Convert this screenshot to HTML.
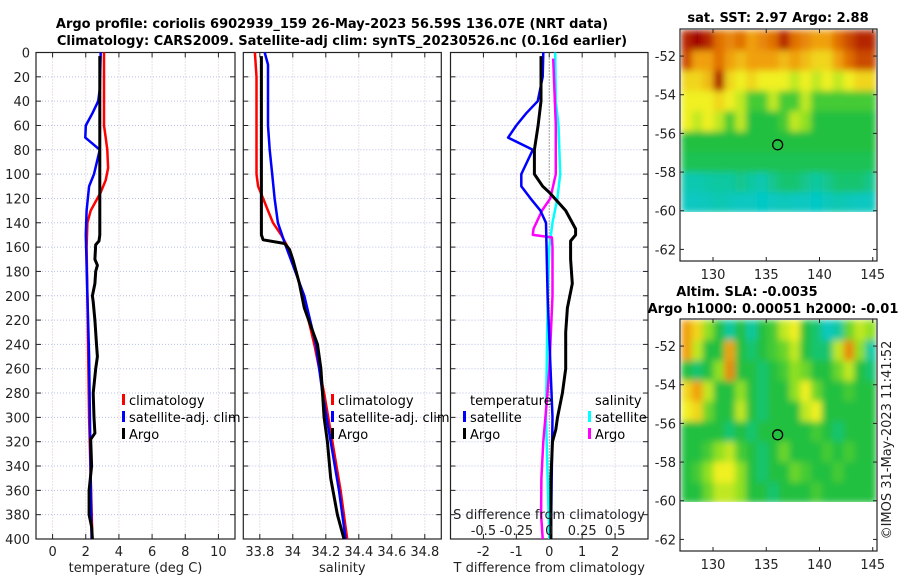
<!DOCTYPE html>
<html><head><meta charset="utf-8">
<style>
html,body{margin:0;padding:0;background:#fff;}
svg{display:block;font-family:"DejaVu Sans","Liberation Sans",sans-serif;}
.tk{font-size:13px;fill:#222;}
.ttl{font-size:13px;font-weight:bold;fill:#000;}
.lg{font-size:13px;fill:#000;}
</style></head>
<body>
<svg id="fig" width="900" height="580" viewBox="0 0 900 580">
<defs>
<filter id="blur" x="0" y="0" width="1" height="1"><feGaussianBlur stdDeviation="3.5" edgeMode="duplicate"/></filter>
<clipPath id="clip1"><rect x="681" y="30" width="195" height="182"/></clipPath>
<clipPath id="clip2"><rect x="681" y="320" width="195" height="182"/></clipPath>
</defs>
<text class="ttl" x="332" y="28" text-anchor="middle">Argo profile: coriolis 6902939_159 26-May-2023 56.59S 136.07E (NRT data)</text>
<text class="ttl" x="342" y="45" text-anchor="middle">Climatology: CARS2009. Satellite-adj clim: synTS_20230526.nc (0.16d earlier)</text>
<g id="p1"></g>
<g id="p2"></g>
<g id="p3"></g>
<g id="m1"></g>
<g id="m2"></g>
<text class="ttl" x="778" y="22" text-anchor="middle">sat. SST: 2.97 Argo: 2.88</text>
<text class="ttl" x="747" y="296" text-anchor="middle">Altim. SLA: -0.0035</text>
<text class="ttl" x="773" y="313" text-anchor="middle">Argo h1000: 0.00051 h2000: -0.01</text>
<text class="tk" transform="translate(891,440) rotate(-90)" text-anchor="middle">©IMOS 31-May-2023 11:41:52</text>
</svg>
<script>
// ---- data ----
const tClimDepth=[0,20,40,60,70,80,95,105,115,120,130,140,160,200,250,300,350,400];
const tClimVal=[3.1,3.1,3.1,3.1,3.2,3.3,3.35,3.2,2.9,2.7,2.3,2.1,2.05,2.1,2.15,2.2,2.3,2.4];
const tSatDepth=[0,30,40,50,60,70,80,100,110,130,150,200,250,300,350,400];
const tSatVal=[2.9,2.85,2.75,2.4,2.0,1.97,2.85,2.5,2.2,2.05,2.0,2.1,2.2,2.25,2.3,2.35];
const tArgoDepth=[3,150,155,158,170,175,180,190,200,205,220,240,250,260,280,300,313,318,340,360,380,390,400];
const tArgoVal=[2.85,2.85,2.8,2.6,2.55,2.7,2.6,2.55,2.4,2.45,2.55,2.65,2.7,2.6,2.45,2.5,2.55,2.3,2.35,2.2,2.2,2.35,2.4];
const sClimDepth=[0,20,100,110,120,130,140,150,160,180,200,240,280,320,360,400];
const sClimVal=[33.77,33.78,33.78,33.79,33.82,33.85,33.88,33.93,33.97,34.02,34.06,34.13,34.19,34.24,34.29,34.33];
const sSatDepth=[0,10,60,80,100,120,140,160,200,240,280,320,360,400];
const sSatVal=[33.83,33.85,33.85,33.86,33.875,33.89,33.91,33.96,34.07,34.14,34.18,34.23,34.28,34.32];
const sArgoDepth=[3,150,154,157,162,170,180,190,210,225,240,260,280,300,320,350,380,400];
const sArgoVal=[33.81,33.81,33.82,33.95,33.98,34.0,34.02,34.04,34.07,34.11,34.15,34.17,34.18,34.19,34.21,34.23,34.27,34.31];
const dtSatDepth=[0,20,40,50,60,70,80,100,110,120,130,140,200,300,400];
const dtSatVal=[-0.18,-0.2,-0.35,-0.7,-1.0,-1.25,-0.5,-0.85,-0.85,-0.57,-0.27,-0.1,-0.05,0.1,0.05];
const dtArgoDepth=[3,40,60,80,100,110,115,130,145,150,155,170,190,210,230,260,280,300,310,320,350,400];
const dtArgoVal=[-0.25,-0.25,-0.34,-0.45,-0.45,-0.2,0,0.5,0.8,0.8,0.65,0.65,0.7,0.55,0.5,0.5,0.4,0.25,0.2,0.1,0.05,0.05];
const dsSatDepth=[0,40,60,100,120,140,160,200,300,400];
const dsSatVal=[0.045,0.05,0.07,0.083,0.062,0.025,0,-0.012,-0.025,0];
const dsArgoDepth=[5,60,100,120,130,145,150,152,160,200,260,286,320,350,380,400];
const dsArgoVal=[0.03,0.05,0.05,0.008,-0.055,-0.12,-0.125,0.02,0.025,0.025,0,-0.018,-0.045,-0.06,-0.062,-0.05];
const depthTicks=[0,20,40,60,80,100,120,140,160,180,200,220,240,260,280,300,320,340,360,380,400];
const tempTicks=[0,2,4,6,8,10];
const salTicks=[33.8,34,34.2,34.4,34.6,34.8];
const salTickLabels=["33.8","34","34.2","34.4","34.6","34.8"];
const dtTicks=[-2,-1,0,1,2];
const dsTicks=[-0.5,-0.25,0,0.25,0.5];
const dsTickLabels=["-0.5","-0.25","0","0.25","0.5"];
const latTicks=[-52,-54,-56,-58,-60,-62];
const lonTicks=[130,135,140,145];
const argoLon=136.07, argoLat=-56.59;
const sstGrid=[
[0.9,0.95,0.9,0.8,0.75,0.8,0.7,0.75,0.8,0.9,0.8,0.75,0.7,0.7,0.8,0.85,0.9,0.9],
[0.85,0.7,0.7,0.8,0.7,0.65,0.7,0.7,0.7,0.65,0.7,0.65,0.6,0.6,0.7,0.8,0.85,0.85],
[0.6,0.6,0.65,0.92,0.6,0.55,0.6,0.55,0.55,0.55,0.5,0.55,0.5,0.55,0.5,0.55,0.6,0.6],
[0.55,0.55,0.55,0.6,0.55,0.5,0.35,0.35,0.5,0.35,0.35,0.5,0.35,0.35,0.35,0.35,0.35,0.35],
[0.55,0.5,0.55,0.5,0.35,0.5,0.3,0.3,0.3,0.35,0.5,0.45,0.3,0.3,0.3,0.3,0.3,0.3],
[0.3,0.3,0.3,0.3,0.3,0.3,0.3,0.3,0.3,0.3,0.3,0.3,0.3,0.3,0.3,0.3,0.3,0.3],
[0.28,0.28,0.28,0.28,0.28,0.28,0.28,0.28,0.28,0.28,0.28,0.28,0.28,0.28,0.28,0.28,0.28,0.28],
[0.15,0.15,0.18,0.2,0.2,0.22,0.2,0.15,0.22,0.25,0.25,0.22,0.2,0.22,0.25,0.25,0.25,0.22],
[0.1,0.1,0.12,0.15,0.12,0.1,0.1,0.08,0.1,0.12,0.1,0.1,0.08,0.12,0.15,0.12,0.1,0.1]];
const slaGrid=[
[0.7,0.6,0.45,0.3,0.2,0.3,0.2,0.3,0.35,0.5,0.55,0.3,0.25,0.1,0.2,0.4,0.5,0.45],
[0.7,0.5,0.3,0.3,0.7,0.3,0.25,0.3,0.35,0.4,0.5,0.3,0.25,0.25,0.5,0.75,0.45,0.2],
[0.3,0.25,0.3,0.45,0.75,0.3,0.3,0.25,0.3,0.35,0.45,0.4,0.3,0.3,0.4,0.5,0.3,0.25],
[0.6,0.7,0.5,0.3,0.3,0.45,0.3,0.25,0.3,0.3,0.45,0.55,0.4,0.3,0.3,0.35,0.3,0.3],
[0.55,0.6,0.4,0.3,0.3,0.5,0.3,0.25,0.3,0.3,0.3,0.5,0.55,0.3,0.3,0.3,0.3,0.3],
[0.3,0.3,0.3,0.3,0.25,0.3,0.25,0.3,0.3,0.3,0.3,0.3,0.35,0.3,0.25,0.3,0.3,0.3],
[0.3,0.3,0.35,0.45,0.5,0.35,0.3,0.25,0.3,0.4,0.3,0.3,0.3,0.35,0.3,0.35,0.3,0.3],
[0.3,0.35,0.45,0.55,0.55,0.45,0.3,0.25,0.3,0.3,0.4,0.35,0.3,0.3,0.35,0.3,0.3,0.3],
[0.3,0.3,0.4,0.5,0.5,0.45,0.3,0.3,0.25,0.3,0.3,0.3,0.35,0.3,0.3,0.3,0.3,0.3]];

// ---- helpers ----
const NS="http://www.w3.org/2000/svg";
function mk(parent,tag,attrs,text){const e=document.createElementNS(NS,tag);for(const k in attrs)e.setAttribute(k,attrs[k]);if(text!==undefined)e.textContent=text;parent.appendChild(e);return e;}
const TOP=52.5,BOT=539;
function yD(d){return TOP+(BOT-TOP)*d/400;}

function panel(g,x0,x1,vmin,vmax,ticks,labels,xlabel,showY){
  const xs=v=>x0+(x1-x0)*(v-vmin)/(vmax-vmin);
  for(const d of depthTicks){
    const l=mk(g,'line',{x1:x0,x2:x1,y1:yD(d),y2:yD(d),stroke:'#b8c0e8','stroke-width':1,'stroke-dasharray':'1,2'});
    
    
    mk(g,'line',{x1:x0,x2:x0+5,y1:yD(d),y2:yD(d),stroke:'#222'});
    mk(g,'line',{x1:x1-5,x2:x1,y1:yD(d),y2:yD(d),stroke:'#222'});
    if(showY){const t=mk(g,'text',{x:x0-6,y:yD(d)+5,'text-anchor':'end',class:'tk'},String(d));
      
      }
  }
  ticks.forEach((v,i)=>{
    const x=xs(v);
    const l=mk(g,'line',{x1:x,x2:x,y1:TOP,y2:BOT,stroke:'#d8c0c8','stroke-width':1,'stroke-dasharray':'1,2'});
    
    
    mk(g,'line',{x1:x,x2:x,y1:BOT-5,y2:BOT,stroke:'#222'});
    mk(g,'line',{x1:x,x2:x,y1:TOP,y2:TOP+5,stroke:'#222'});
    const t=mk(g,'text',{x:x,y:556,'text-anchor':'middle',class:'tk'},labels[i]);
    
    
  });
  const r=mk(g,'rect',{x:x0,y:TOP,width:x1-x0,height:BOT-TOP,fill:'none',stroke:'#222','stroke-width':1.2});
  
  
  const xl=mk(g,'text',{x:(x0+x1)/2,y:572,'text-anchor':'middle',class:'tk'},xlabel);
  
  
  return xs;
}
function line(g,xs,depths,vals,color,w,name){
  const pts=depths.map((d,i)=>xs(vals[i]).toFixed(1)+','+yD(d).toFixed(1)).join(' ');
  const p=mk(g,'polyline',{points:pts,fill:'none',stroke:color,'stroke-width':w,'stroke-linejoin':'round'});
  
  
}
function legend(g,x,y,color,label,name){
  mk(g,'rect',{x:x,y:y-11,width:3,height:11,fill:color});
  const t=mk(g,'text',{x:x+7,y:y,class:'lg'},label);
  
  
}

// ---- panel 1 ----
const p1=document.getElementById('p1');
const xT=panel(p1,36,235,-1,11,tempTicks,tempTicks.map(String),'temperature (deg C)',true);
line(p1,xT,tClimDepth,tClimVal,'#ff0000',2.5,'temp-climatology-line');
line(p1,xT,tSatDepth,tSatVal,'#0000ff',2.5,'temp-satellite-line');
line(p1,xT,tArgoDepth,tArgoVal,'#000000',3,'temp-argo-line');
legend(p1,122,405,'#ff0000','climatology','legend-climatology');
legend(p1,122,422,'#0000ff','satellite-adj. clim','legend-satellite');
legend(p1,122,439,'#000000','Argo','legend-argo');

// ---- panel 2 ----
const p2=document.getElementById('p2');
const xS=panel(p2,243.3,441.3,33.7,34.9,salTicks,salTickLabels,'salinity',false);
line(p2,xS,sClimDepth,sClimVal,'#ff0000',2.5,'sal-climatology-line');
line(p2,xS,sSatDepth,sSatVal,'#0000ff',2.5,'sal-satellite-line');
line(p2,xS,sArgoDepth,sArgoVal,'#000000',3,'sal-argo-line');
legend(p2,331,405,'#ff0000','climatology','legend-climatology');
legend(p2,331,422,'#0000ff','satellite-adj. clim','legend-satellite');
legend(p2,331,439,'#000000','Argo','legend-argo');

// ---- panel 3 ----
const p3=document.getElementById('p3');
const xD=panel(p3,450.5,648,-3,3,dtTicks,dtTicks.map(String),'T difference from climatology',false);
const xDS=v=>xD(v*4);
mk(p3,'line',{x1:xD(0),x2:xD(0),y1:TOP,y2:BOT,stroke:'#555','stroke-width':1,'stroke-dasharray':'1,2'});
line(p3,xDS,dsSatDepth,dsSatVal,'#00ffff',2.5,'sal-diff-satellite-line');
line(p3,xDS,dsArgoDepth,dsArgoVal,'#ff00ff',2.5,'sal-diff-argo-line');
line(p3,xD,dtSatDepth,dtSatVal,'#0000ff',2.5,'temp-diff-satellite-line');
line(p3,xD,dtArgoDepth,dtArgoVal,'#000000',3,'temp-diff-argo-line');
{const t=mk(p3,'text',{x:470,y:405,class:'lg'},'temperature');


const s=mk(p3,'text',{x:595,y:405,class:'lg'},'salinity');

}
legend(p3,463,422,'#0000ff','satellite','legend-temp-satellite');
legend(p3,463,439,'#000000','Argo','legend-temp-argo');
legend(p3,588,422,'#00ffff','satellite','legend-sal-satellite');
legend(p3,588,439,'#ff00ff','Argo','legend-sal-argo');
{const t=mk(p3,'text',{x:549,y:519,'text-anchor':'middle',class:'tk'},'S difference from climatology');

}
dsTicks.forEach((v,i)=>{const t=mk(p3,'text',{x:xDS(v),y:535,'text-anchor':'middle',class:'tk'},dsTickLabels[i]);

});

// ---- maps ----
const stops=[[0,[0,200,224]],[0.2,[16,200,160]],[0.3,[32,192,64]],[0.45,[144,224,32]],[0.55,[240,240,32]],[0.7,[240,160,16]],[0.8,[224,112,0]],[0.95,[160,0,0]],[1,[140,0,0]]];
function cmap(v){for(let i=1;i<stops.length;i++){if(v<=stops[i][0]){const a=stops[i-1],b=stops[i],t=(v-a[0])/(b[0]-a[0]);return 'rgb('+a[1].map((c,j)=>Math.round(c+(b[1][j]-c)*t)).join(',')+')';}}return 'rgb(140,0,0)';}
function drawMap(g,top,grid,name,clipId){
  const L=680,R=877,B=top+232;
  const lonMin=126.9,lonMax=145.4,latTop=-50.6,latBot=-62.6;
  const xl=lon=>L+(R-L)*(lon-lonMin)/(lonMax-lonMin);
  const yl=lat=>top+(B-top)*(latTop-lat)/(latTop-latBot);
  const rows=grid.length,cols=grid[0].length;
  const gx0=L+1,gx1=R-1,gy0=top+1,gy1=yl(-60.1);
  const cw=(gx1-gx0)/cols,ch=(gy1-gy0)/rows;
  const clipG=mk(g,'g',{'clip-path':'url(#'+clipId+')'});
  const img=mk(clipG,'g',{filter:'url(#blur)'});
  grid.forEach((row,r)=>row.forEach((v,c)=>{
    const e=mk(img,'rect',{x:(gx0+c*cw).toFixed(2),y:(gy0+r*ch).toFixed(2),width:(cw+0.6).toFixed(2),height:(ch+0.6).toFixed(2),fill:cmap(v)});
    
    
  }));
  latTicks.forEach(lat=>{const y=yl(lat);
    mk(g,'line',{x1:L,x2:L+4,y1:y,y2:y,stroke:'#222'});
    mk(g,'line',{x1:R-4,x2:R,y1:y,y2:y,stroke:'#222'});
    const t=mk(g,'text',{x:L-4,y:y+5,'text-anchor':'end',class:'tk'},String(lat));
    
    });
  lonTicks.forEach(lon=>{const x=xl(lon);
    mk(g,'line',{x1:x,x2:x,y1:B-4,y2:B,stroke:'#222'});
    mk(g,'line',{x1:x,x2:x,y1:top,y2:top+4,stroke:'#222'});
    const t=mk(g,'text',{x:x,y:B+18,'text-anchor':'middle',class:'tk'},String(lon));
    
    });
  const bx=mk(g,'rect',{x:L,y:top,width:R-L,height:B-top,fill:'none',stroke:'#222','stroke-width':1.2});
  
  
  const c=mk(g,'circle',{cx:xl(argoLon),cy:yl(argoLat),r:5,fill:'none',stroke:'#000','stroke-width':1.3});
  
  
}
drawMap(document.getElementById('m1'),29,sstGrid,'sst','clip1');
drawMap(document.getElementById('m2'),319,slaGrid,'sla','clip2');
</script>
</body></html>
